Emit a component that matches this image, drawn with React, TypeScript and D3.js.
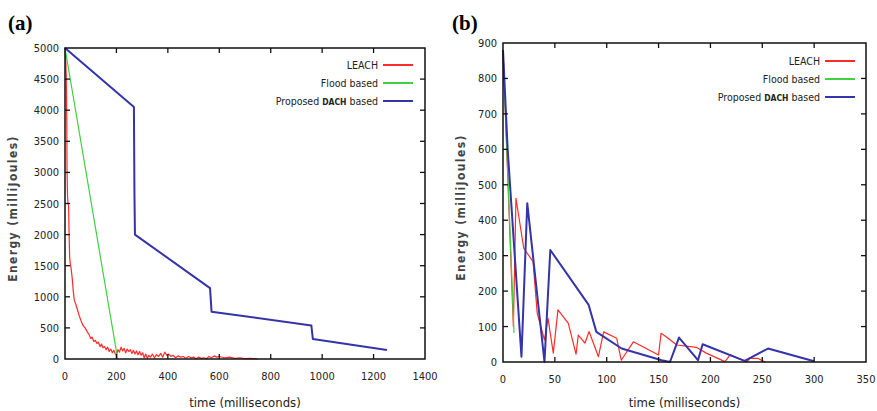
import React from "react";
import * as d3 from "d3";

// ---------- DATA ----------
const aXTicks = [0, 200, 400, 600, 800, 1000, 1200, 1400];
const aYTicks = [0, 500, 1000, 1500, 2000, 2500, 3000, 3500, 4000, 4500, 5000];
const bXTicks = [0, 50, 100, 150, 200, 250, 300, 350];
const bYTicks = [0, 100, 200, 300, 400, 500, 600, 700, 800, 900];

const seriesNames = ["LEACH", "Flood based", "Proposed DACH based"];

// Panel (a): [time ms, energy mJ]
const aLeach: [number, number][] = [
  [0, 5000], [3, 4800], [5, 4500], [7, 3800], [8, 3000], [10, 2600], [12, 2500], [14, 2450],
  [16, 2000], [18, 1650], [20, 1550], [24, 1450], [28, 1300], [32, 1100], [36, 950], [42, 880],
  [48, 800], [55, 700], [62, 620], [70, 540], [78, 500], [86, 440], [94, 390], [100, 330],
  [106, 350], [112, 280], [118, 300], [124, 250], [130, 270], [136, 200], [142, 240], [148, 180],
  [154, 200], [160, 150], [166, 190], [172, 120], [178, 160], [184, 100], [190, 140], [196, 80],
  [200, 60], [206, 150], [212, 110], [218, 190], [224, 130], [230, 170], [236, 100], [242, 160],
  [248, 120], [254, 150], [260, 90], [266, 140], [272, 80], [278, 130], [284, 70], [290, 120],
  [296, 60], [302, 100], [308, 20], [314, 80], [320, 10], [326, 60], [332, 30], [340, 80],
  [348, 20], [356, 70], [364, 40], [372, 90], [380, 30], [388, 110], [396, 60], [404, 80],
  [412, 40], [420, 60], [430, 20], [440, 50], [450, 30], [460, 40], [470, 10], [480, 40],
  [490, 20], [500, 30], [510, 5], [520, 30], [530, 10], [540, 20], [550, 5], [560, 40],
  [570, 20], [580, 50], [590, 30], [600, 40], [620, 20], [640, 30], [660, 10], [680, 20],
  [700, 5], [720, 10], [750, 0],
];
const aFlood: [number, number][] = [[0, 5000], [205, 0]];
const aDach: [number, number][] = [
  [0, 5000], [268, 4050], [270, 2700], [272, 2000], [564, 1140], [570, 760], [958, 540],
  [964, 320], [1252, 145],
];

// Panel (b)
const bLeach: [number, number][] = [
  [0, 880], [10, 100], [12.5, 462], [20, 321], [29, 283], [33, 137], [40, 62], [43.4, 123],
  [48.5, 25], [53, 147], [63, 109], [70.4, 22], [72.6, 76], [79, 53], [83, 86], [92, 15],
  [97, 85], [109.6, 67], [114, 5], [125.7, 57], [150, 20], [152.4, 81], [158, 70], [167.5, 48],
  [186.8, 41], [196, 25], [214, 1], [219, 20], [235, 0], [238, 10], [246, 10], [252.6, 0],
];
const bFlood: [number, number][] = [[0, 880], [10.6, 82]];
const bDach: [number, number][] = [
  [0, 880], [4.5, 600], [17.8, 15], [23.4, 448], [40, 0], [45.6, 316], [82.6, 161], [90, 85],
  [114.4, 38], [153, 5], [161, 0], [169.7, 69], [188, 5], [192.5, 50], [233, 3], [255.5, 38],
  [300, 2],
];

const colors = ["#ff2a2a", "#3ed23e", "#3434a8"];
const widths = [1.2, 1.2, 2];

type PanelProps = {
  label: string;
  x0: number; x1: number; y0: number; y1: number;
  xMax: number; yMax: number;
  xTicks: number[]; yTicks: number[];
  series: [number, number][][];
  legendRight: number; legendTop: number;
  labelX: number; yLabelX: number;
};

function Panel(p: PanelProps) {
  const x = d3.scaleLinear().domain([0, p.xMax]).range([p.x0, p.x1]);
  const y = d3.scaleLinear().domain([0, p.yMax]).range([p.y1, p.y0]);
  const line = d3.line<[number, number]>().x((d) => x(d[0])).y((d) => y(Math.max(0, d[1])));
  const tl = 5;
  const tickFont = "DejaVu Sans Condensed, DejaVu Sans, sans-serif";
  return (
    <g>
      <text x={p.labelX} y={30} fontFamily="Liberation Serif, serif" fontWeight="bold" fontSize={21}>{p.label}</text>
      {p.series.map((s, i) => (
        <path key={i} d={line(s) || ""} fill="none" stroke={colors[i]} strokeWidth={widths[i]} strokeLinejoin="round" />
      ))}
      <rect x={p.x0} y={p.y0} width={p.x1 - p.x0} height={p.y1 - p.y0} fill="none" stroke="#111" strokeWidth={1.5} />
      {p.xTicks.map((t) => (
        <g key={"x" + t}>
          {t > 0 && t < p.xMax && (
            <>
              <line x1={x(t)} x2={x(t)} y1={p.y1} y2={p.y1 - tl} stroke="#111" strokeWidth={1.3} />
              <line x1={x(t)} x2={x(t)} y1={p.y0} y2={p.y0 + tl} stroke="#111" strokeWidth={1.3} />
            </>
          )}
          <text x={x(t)} y={p.y1 + 21} textAnchor="middle" fontFamily={tickFont} fontSize={11} fill="#222">{t}</text>
        </g>
      ))}
      {p.yTicks.map((t) => (
        <g key={"y" + t}>
          {t > 0 && t < p.yMax && (
            <>
              <line x1={p.x0} x2={p.x0 + tl} y1={y(t)} y2={y(t)} stroke="#111" strokeWidth={1.3} />
              <line x1={p.x1} x2={p.x1 - tl} y1={y(t)} y2={y(t)} stroke="#111" strokeWidth={1.3} />
            </>
          )}
          <text x={p.x0 - 6} y={y(t) + 4} textAnchor="end" fontFamily={tickFont} fontSize={11} fill="#222">{t}</text>
        </g>
      ))}
      <text x={(p.x0 + p.x1) / 2} y={407} textAnchor="middle" fontFamily={tickFont} fontSize={13} fill="#222">time (milliseconds)</text>
      <text transform={`translate(${p.yLabelX},${(p.y0 + p.y1) / 2 + 5}) rotate(-90)`} textAnchor="middle"
        fontFamily={tickFont} fontWeight="bold" fontSize={12} letterSpacing={1.4} fill="#444">Energy (milliJoules)</text>
      {seriesNames.map((n, i) => {
        const ly = p.legendTop + i * 18;
        return (
          <g key={n}>
            <line x1={p.legendRight + 5} x2={p.legendRight + 35} y1={ly} y2={ly} stroke={colors[i]} strokeWidth={2} />
            {i < 2 ? (
              <text x={p.legendRight} y={ly + 4} textAnchor="end" fontFamily={tickFont} fontSize={10.5} fill="#222">{n}</text>
            ) : (
              <text x={p.legendRight} y={ly + 4} textAnchor="end" fontFamily={tickFont} fontSize={10.5} fill="#222">
                Proposed <tspan fontWeight="bold" fontSize={8.5}>DACH</tspan> based
              </text>
            )}
          </g>
        );
      })}
    </g>
  );
}

export default function App() {
  return (
    <svg width={877} height={411} style={{ position: "absolute", left: 0, top: 0, background: "#fff" }}>
      <rect width={877} height={411} fill="#fff" />
      <Panel label="(a)" x0={65} x1={425} y0={48} y1={359} xMax={1400} yMax={5000}
        xTicks={aXTicks} yTicks={aYTicks} series={[aLeach, aFlood, aDach]}
        legendRight={378} legendTop={65} labelX={8} yLabelX={17} />
      <Panel label="(b)" x0={503} x1={866} y0={43} y1={362} xMax={350} yMax={900}
        xTicks={bXTicks} yTicks={bYTicks} series={[bLeach, bFlood, bDach]}
        legendRight={820} legendTop={61} labelX={452} yLabelX={465} />
    </svg>
  );
}
